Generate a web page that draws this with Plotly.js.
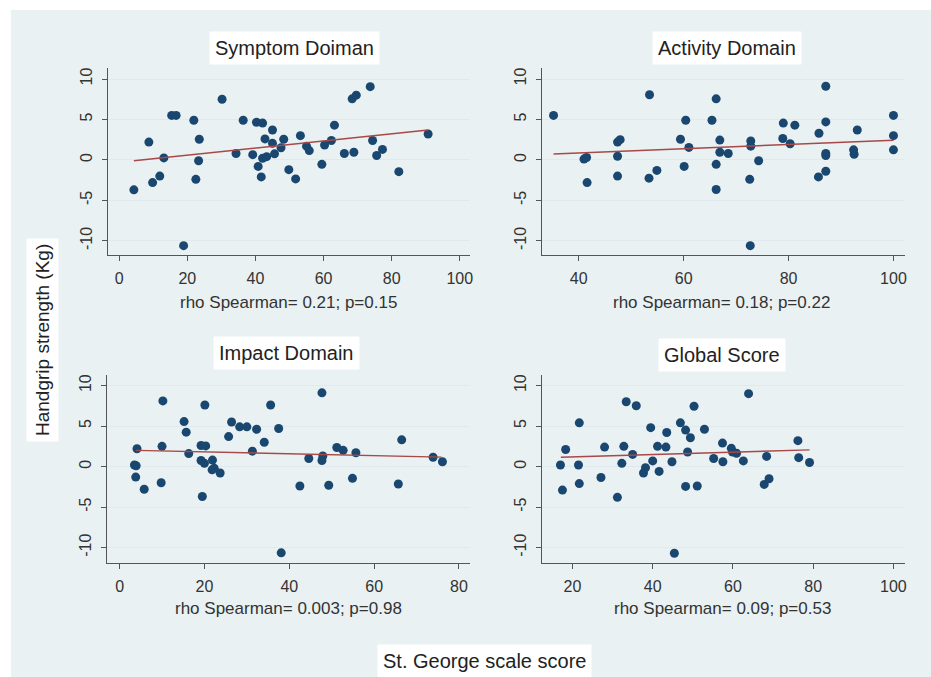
<!DOCTYPE html>
<html>
<head>
<meta charset="utf-8">
<script src="https://cdn.plot.ly/plotly-3.0.1.min.js"></script>
<style>html,body{margin:0;padding:0;background:#fff;}#chart{width:931px;height:677px;}</style>
</head>
<body>
<div id="chart"></div>
<script>
// ---- Data ----
var panelTitles = ["Symptom Doiman", "Activity Domain", "Impact Domain", "Global Score"];
var panelNotes = ["rho Spearman= 0.21; p=0.15", "rho Spearman= 0.18; p=0.22",
                  "rho Spearman= 0.003; p=0.98", "rho Spearman= 0.09; p=0.53"];
var yTitle = "Handgrip strength (Kg)";
var xTitle = "St. George scale score";
var yTicks = [-10, -5, 0, 5, 10];
var yTickLabels = ["-10", "-5", "0", "5", "10"];

var symX = [4.3, 8.7, 9.8, 11.9, 13.1, 15.4, 16.7, 18.9, 21.9, 23.5, 23.3, 22.5, 30.2, 34.3, 36.4, 39.2, 40.3, 42.1, 40.8, 41.7, 42.8, 42.1, 43.3, 45.0, 45.0, 45.6, 47.5, 48.3, 49.8, 51.8, 53.2, 55.0, 55.8, 59.5, 60.3, 62.3, 63.2, 66.1, 68.4, 69.6, 68.9, 73.7, 74.4, 75.6, 77.3, 82.1, 90.7];
var symY = [-3.7, 2.2, -2.8, -2.0, 0.25, 5.5, 5.5, -10.6, 4.9, 2.55, -0.1, -2.4, 7.5, 0.8, 4.9, 0.65, 4.65, 4.55, -0.8, -2.1, 2.6, 0.2, 0.4, 3.7, 2.05, 0.75, 1.5, 2.55, -1.2, -2.35, 3.0, 1.7, 1.15, -0.55, 1.85, 2.4, 4.3, 0.8, 7.55, 8.0, 0.95, 9.05, 2.4, 0.55, 1.3, -1.45, 3.2];
var symFitX = [4.3, 90.7];
var symFitY = [-0.1, 3.7];

var actX = [35.2, 41.0, 41.5, 41.6, 47.4, 47.9, 47.4, 47.4, 53.5, 53.4, 54.9, 59.4, 60.4, 61.0, 60.1, 65.4, 66.2, 66.9, 66.9, 68.5, 66.2, 66.2, 72.8, 72.8, 72.6, 72.7, 74.3, 79.0, 78.9, 80.3, 81.2, 85.8, 85.7, 87.1, 87.1, 87.1, 87.1, 87.1, 92.4, 92.5, 93.1, 100, 100, 100];
var actY = [5.5, 0.1, 0.3, -2.8, 2.2, 2.5, 0.45, -2.0, 8.05, -2.25, -1.3, 2.55, 4.9, 1.55, -0.8, 4.9, 7.55, 2.45, 0.95, 0.8, -0.55, -3.65, 2.35, 1.7, -2.4, -10.6, -0.1, 4.55, 2.65, 2.0, 4.3, 3.3, -2.1, 9.1, 4.7, 0.8, 0.55, -1.4, 1.25, 0.7, 3.7, 5.5, 3.0, 1.25];
var actFitX = [35.2, 100];
var actFitY = [0.74, 2.43];

var impX = [4.1, 3.5, 3.9, 3.8, 5.8, 10.2, 10.0, 9.8, 15.2, 15.7, 16.3, 19.2, 20.3, 20.1, 19.2, 20.0, 19.5, 21.9, 21.8, 22.3, 23.7, 25.7, 26.4, 28.3, 30.0, 31.3, 32.3, 34.1, 35.6, 37.5, 38.1, 42.5, 44.6, 47.7, 47.9, 47.7, 49.3, 51.2, 52.7, 54.9, 55.7, 65.7, 66.5, 73.9, 76.1];
var impY = [2.2, 0.2, 0.1, -1.3, -2.8, 8.1, 2.5, -2.0, 5.55, 4.25, 1.6, 2.6, 2.55, 7.6, 0.75, 0.4, -3.7, 0.8, -0.4, -0.2, -0.8, 3.7, 5.5, 4.9, 4.9, 1.9, 4.6, 3.0, 7.6, 4.7, -10.65, -2.4, 1.0, 9.1, 1.3, 0.75, -2.3, 2.35, 2.0, -1.45, 1.7, -2.15, 3.3, 1.15, 0.6];
var impFitX = [3.9, 75.9];
var impFitY = [2.0, 1.16];

var gloX = [17.0, 17.5, 18.3, 21.5, 21.7, 21.7, 27.1, 28.0, 31.2, 32.3, 32.8, 33.4, 35.0, 35.9, 37.7, 38.2, 39.5, 40.0, 41.2, 41.6, 43.3, 43.5, 44.8, 45.4, 46.9, 48.2, 49.4, 48.7, 48.2, 50.3, 51.1, 52.9, 55.2, 57.4, 57.5, 59.6, 59.9, 60.9, 62.6, 63.9, 68.4, 67.8, 69.0, 76.2, 76.4, 79.1];
var gloY = [0.2, -2.9, 2.1, 0.2, 5.4, -2.1, -1.35, 2.4, -3.8, 0.4, 2.5, 8.0, 1.5, 7.5, -0.8, -0.15, 4.8, 0.7, 2.5, -0.6, 2.4, 4.2, 0.6, -10.7, 5.4, 4.5, 3.55, 1.8, -2.45, 7.45, -2.4, 4.6, 1.0, 2.9, 0.6, 2.25, 1.8, 1.65, 0.7, 9.0, 1.25, -2.2, -1.5, 3.2, 1.1, 0.5];
var gloFitX = [17.1, 79.1];
var gloFitY = [1.15, 2.06];

// ---- Styling / layout ----
var W = 931, H = 677;
var navy = "rgb(26,71,111)";
var fitColor = "#a84848";
var bgColor = "#e9f1f3";
var font = "Liberation Sans, Arial, sans-serif";

function px(x) { return x / W; }
function py(y) { return 1 - y / H; }

var panels = [
  {x: symX, y: symY, fx: symFitX, fy: symFitY, xd: [108, 470], yd: [68, 255], xr: [-3.3, 103], yr: [-11.75, 11.36], tc: [294, 48], nc: [288, 302]},
  {x: actX, y: actY, fx: actFitX, fy: actFitY, xd: [542, 905], yd: [68, 255], xr: [33.0, 102.2], yr: [-11.75, 11.36], tc: [727, 48], nc: [721, 302]},
  {x: impX, y: impY, fx: impFitX, fy: impFitY, xd: [107, 470], yd: [375, 563], xr: [-2.97, 82.6], yr: [-11.9, 11.3], tc: [286, 353], nc: [288, 608]},
  {x: gloX, y: gloY, fx: gloFitX, fy: gloFitY, xd: [542, 905], yd: [375, 563], xr: [12.4, 102.9], yr: [-11.9, 11.3], tc: [722, 355], nc: [722, 608]}
];

var data = [];
var layout = {
  width: W, height: H,
  margin: {l: 0, r: 0, t: 0, b: 0, pad: 0},
  paper_bgcolor: "#ffffff",
  plot_bgcolor: "#ffffff",
  showlegend: false,
  font: {family: font, color: "#333"},
  shapes: [{type: "rect", xref: "paper", yref: "paper", x0: px(11), x1: 1, y0: 0, y1: py(10),
            fillcolor: bgColor, line: {width: 0}, layer: "below"}],
  annotations: []
};

panels.forEach(function (p, i) {
  var n = i === 0 ? "" : String(i + 1);
  var xa = "x" + n, ya = "y" + n;
  data.push({type: "scatter", mode: "markers", x: p.x, y: p.y, xaxis: xa, yaxis: ya,
             marker: {color: navy, size: 9, line: {width: 0}}, hoverinfo: "skip"});
  data.push({type: "scatter", mode: "lines", x: p.fx, y: p.fy, xaxis: xa, yaxis: ya,
             line: {color: fitColor, width: 1.4}, hoverinfo: "skip"});
  layout["xaxis" + n] = {
    domain: [px(p.xd[0]), px(p.xd[1])], range: p.xr, anchor: ya,
    showline: true, linecolor: "#555", linewidth: 1, mirror: false,
    ticks: "outside", ticklen: 5, tickcolor: "#555", tickwidth: 1,
    tick0: 0, dtick: 20, showgrid: false, zeroline: false, ticklabelstandoff: 4,
    tickfont: {family: font, size: 16, color: "#333"}, fixedrange: true
  };
  layout["yaxis" + n] = {
    domain: [py(p.yd[1]), py(p.yd[0])], range: p.yr, anchor: xa,
    showline: true, linecolor: "#555", linewidth: 1,
    ticks: "outside", ticklen: 5, tickcolor: "#555", tickwidth: 1,
    tickmode: "array", tickvals: yTicks, ticktext: yTickLabels, tickangle: -90,
    ticklabelstandoff: 4,
    showgrid: true, gridcolor: "#e0eaee", gridwidth: 1, zeroline: false,
    tickfont: {family: font, size: 16, color: "#333"}, fixedrange: true
  };
  layout.annotations.push({
    text: panelTitles[i], xref: "paper", yref: "paper", x: px(p.tc[0]), y: py(p.tc[1]),
    xanchor: "center", yanchor: "middle", showarrow: false,
    font: {family: font, size: 20, color: "#222"}, bgcolor: "#ffffff", borderpad: 5
  });
  layout.annotations.push({
    text: panelNotes[i], xref: "paper", yref: "paper", x: px(p.nc[0]), y: py(p.nc[1]),
    xanchor: "center", yanchor: "middle", showarrow: false,
    font: {family: font, size: 17, color: "#333"}
  });
});

layout.annotations.push({
  text: yTitle, xref: "paper", yref: "paper", x: px(42), y: py(340),
  xanchor: "center", yanchor: "middle", showarrow: false, textangle: -90,
  font: {family: font, size: 19, color: "#222"}, bgcolor: "#ffffff", borderpad: 5
});
layout.annotations.push({
  text: xTitle, xref: "paper", yref: "paper", x: px(485), y: py(661),
  xanchor: "center", yanchor: "middle", showarrow: false,
  font: {family: font, size: 20, color: "#222"}, bgcolor: "#ffffff", borderpad: 5
});

Plotly.newPlot("chart", data, layout, {staticPlot: true, displayModeBar: false});
</script>
</body>
</html>
